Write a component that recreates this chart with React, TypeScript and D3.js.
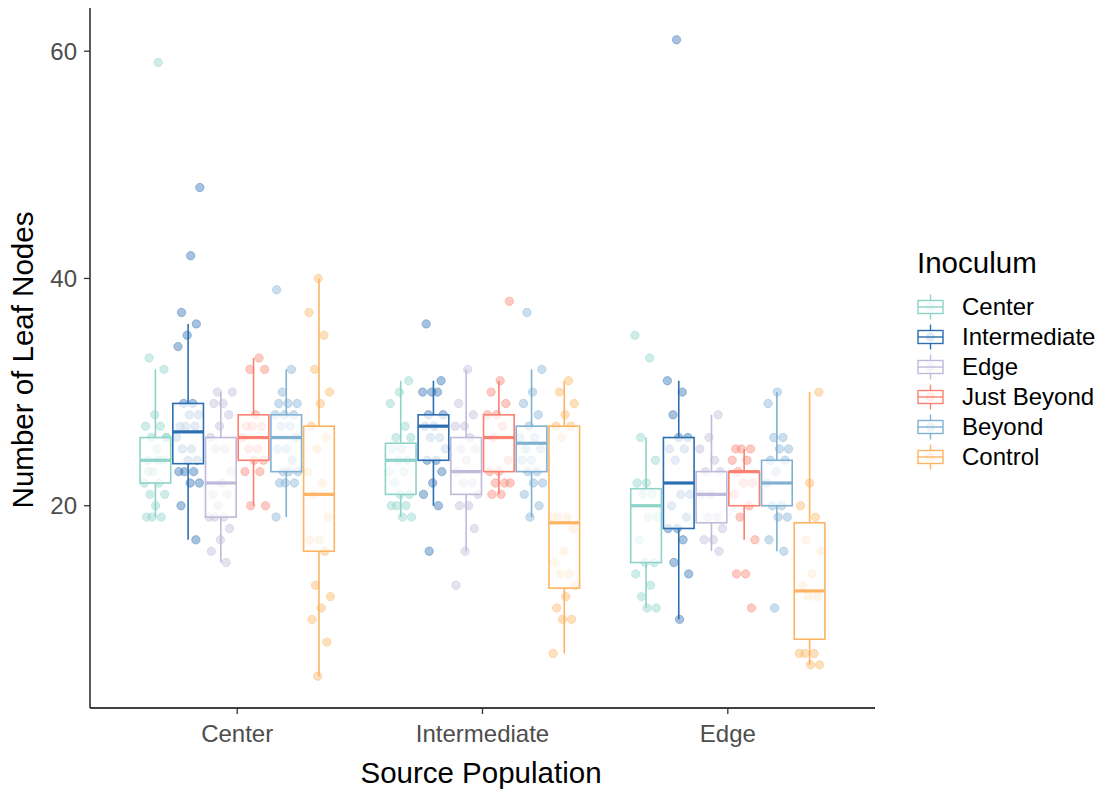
import React from "react";
import * as d3 from "d3";

// ---------- data ----------
const sourcePopulations = ["Center", "Intermediate", "Edge"];
const inocula = ["Center", "Intermediate", "Edge", "Just Beyond", "Beyond", "Control"];
const yTicks = [20, 40, 60];

// box stats: [lower whisker, Q1, median, Q3, upper whisker] per inoculum
const centerBoxes = [
  [19, 22, 24, 26, 32],
  [17, 23.7, 26.5, 29, 36],
  [15, 19, 22, 26, 30],
  [20, 24, 26, 28, 33],
  [19, 23, 26, 28, 32],
  [5, 16, 21, 27, 40],
];
const intermediateBoxes = [
  [19, 21, 24, 25.5, 31],
  [20, 24, 27, 28, 31],
  [16, 21, 23, 26, 32],
  [21, 23, 26, 28, 31],
  [19, 23, 25.5, 27, 32],
  [7, 12.75, 18.5, 27, 31],
];
const edgeBoxes = [
  [11, 15, 20, 21.5, 26],
  [10, 18, 22, 26, 31],
  [16, 18.5, 21, 23, 28],
  [17, 20, 23, 23, 25],
  [16, 20, 22, 24, 30],
  [6, 8.25, 12.5, 18.5, 30],
];

// raw observations (jittered points)
const centerPoints = [
  [59, 33, 32, 28, 27, 27, 26, 26, 25, 24, 24, 23, 22, 22, 21, 21, 20, 19, 19, 19, 26, 24, 23],
  [48, 42, 37, 36, 35, 34, 29, 29, 28, 28, 27, 27, 27, 26, 25, 25, 24, 24, 23, 23, 23, 22, 22, 20, 17],
  [30, 30, 29, 29, 28, 27, 26, 25, 25, 23, 22, 21, 21, 20, 19, 19, 19, 18, 17, 16, 15],
  [33, 32, 32, 28, 27, 27, 27, 26, 25, 25, 24, 24, 23, 23, 20, 20],
  [39, 32, 30, 29, 29, 29, 28, 28, 28, 27, 27, 26, 25, 25, 24, 23, 23, 23, 22, 22, 22, 19],
  [40, 37, 35, 32, 30, 29, 27, 26, 25, 23, 22, 21, 19, 17, 17, 16, 13, 12, 11, 10, 8, 5],
];
const intermediatePoints = [
  [31, 30, 29, 27, 26, 26, 25, 25, 24, 24, 23, 23, 22, 21, 21, 20, 20, 20, 19, 19],
  [36, 31, 30, 30, 30, 28, 28, 27, 27, 26, 26, 25, 24, 24, 23, 22, 21, 20, 16],
  [32, 29, 28, 27, 27, 26, 25, 25, 24, 23, 22, 22, 21, 20, 20, 18, 16, 13],
  [38, 31, 30, 29, 28, 28, 27, 26, 24, 23, 23, 22, 22, 22, 21, 21],
  [37, 32, 30, 29, 28, 27, 26, 26, 25, 25, 24, 24, 23, 23, 22, 22, 21, 20, 19],
  [31, 30, 29, 28, 27, 27, 26, 19, 19, 19, 18, 16, 15, 14, 14, 13, 12, 11, 10, 10, 7],
];
const edgePoints = [
  [35, 33, 26, 24, 22, 22, 21, 21, 19, 19, 17, 15, 15, 14, 13, 12, 11, 11],
  [61, 31, 30, 28, 26, 26, 25, 25, 24, 21, 21, 20, 19, 18, 18, 17, 15, 14, 10],
  [28, 26, 25, 24, 23, 23, 21, 21, 19, 19, 18, 17, 17, 16],
  [25, 25, 25, 24, 24, 23, 22, 22, 21, 20, 19, 17, 14, 14, 11],
  [30, 29, 26, 26, 25, 25, 24, 24, 23, 22, 20, 20, 19, 19, 17, 16, 11],
  [30, 22, 20, 19, 17, 16, 14, 13, 12, 12, 7, 7, 7, 6, 6],
];

const allBoxes = [centerBoxes, intermediateBoxes, edgeBoxes];
const allPoints = [centerPoints, intermediatePoints, edgePoints];

// ---------- styles ----------
const colors = ["#8DD3C7", "#2C6EB2", "#BEBADA", "#FB8072", "#80B1D3", "#FDB462"];
const FONT = "'Liberation Sans', Arial, sans-serif";

const W = 1099;
const H = 798;
const panel = { left: 90, right: 875, top: 8, bottom: 708 };

export default function App() {
  const x = d3
    .scalePoint<string>()
    .domain(sourcePopulations)
    .range([panel.left, panel.right])
    .padding(0.6);
  const step = x.step();
  const dodge = d3
    .scaleBand<string>()
    .domain(inocula)
    .range([-step * 0.4, step * 0.4])
    .padding(0);
  const boxW = (step * 0.75) / inocula.length;
  const y = d3.scaleLinear().domain([2.2, 63.8]).range([panel.bottom, panel.top]);
  const jitterW = 12;

  const pointEls: React.ReactNode[] = [];
  const boxEls: React.ReactNode[] = [];

  sourcePopulations.forEach((sp, si) => {
    inocula.forEach((ino, k) => {
      const cx = (x(sp) as number) + (dodge(ino) as number) + dodge.bandwidth() / 2;
      const col = colors[k];
      allPoints[si][k].forEach((v, j) => {
        const frac = (((j + 1) * 0.6180339 + k * 0.37 + si * 0.21) % 1) * 2 - 1;
        pointEls.push(
          <circle
            key={`p-${si}-${k}-${j}`}
            cx={cx + frac * jitterW}
            cy={y(v)}
            r={4.2}
            fill={col}
            fillOpacity={0.42}
            stroke={col}
            strokeOpacity={0.38}
            strokeWidth={1}
          />
        );
      });
      const [lw, q1, med, q3, uw] = allBoxes[si][k];
      boxEls.push(
        <g key={`b-${si}-${k}`} stroke={col}>
          <line x1={cx} x2={cx} y1={y(q3)} y2={y(uw)} strokeWidth={1.6} />
          <line x1={cx} x2={cx} y1={y(q1)} y2={y(lw)} strokeWidth={1.6} />
          <rect
            x={cx - boxW / 2}
            y={y(q3)}
            width={boxW}
            height={y(q1) - y(q3)}
            fill="#ffffff"
            fillOpacity={0.7}
            strokeWidth={1.6}
          />
          <line x1={cx - boxW / 2} x2={cx + boxW / 2} y1={y(med)} y2={y(med)} strokeWidth={3.2} />
        </g>
      );
    });
  });

  const legendX = 918;
  const legendY0 = 307;
  const legendStep = 30;

  return (
    <svg
      width={W}
      height={H}
      style={{ position: "absolute", left: 0, top: 0, background: "#fff" }}
      fontFamily={FONT}
    >
      <rect x={0} y={0} width={W} height={H} fill="#fff" />
      <g>{pointEls}</g>
      <g>{boxEls}</g>

      {/* axes */}
      <line x1={panel.left} x2={panel.left} y1={panel.top} y2={panel.bottom} stroke="#000" strokeWidth={1.3} />
      <line x1={panel.left} x2={panel.right} y1={panel.bottom} y2={panel.bottom} stroke="#000" strokeWidth={1.3} />
      {yTicks.map((t) => (
        <g key={`yt-${t}`}>
          <line x1={panel.left - 6} x2={panel.left} y1={y(t)} y2={y(t)} stroke="#333" strokeWidth={1.3} />
          <text
            x={panel.left - 13}
            y={y(t)}
            dy="0.35em"
            textAnchor="end"
            fontSize={24}
            fill="#4D4D4D"
          >
            {t}
          </text>
        </g>
      ))}
      {sourcePopulations.map((c) => (
        <g key={`xt-${c}`}>
          <line x1={x(c)} x2={x(c)} y1={panel.bottom} y2={panel.bottom + 6} stroke="#333" strokeWidth={1.3} />
          <text x={x(c)} y={742} textAnchor="middle" fontSize={24} fill="#4D4D4D">
            {c}
          </text>
        </g>
      ))}
      <text x={481} y={783} textAnchor="middle" fontSize={29.5} fill="#000">
        Source Population
      </text>
      <text
        transform={`translate(33, 360) rotate(-90)`}
        textAnchor="middle"
        fontSize={29.5}
        fill="#000"
      >
        Number of Leaf Nodes
      </text>

      {/* legend */}
      <text x={917} y={273} fontSize={29.5} fill="#000">
        Inoculum
      </text>
      {inocula.map((ino, k) => {
        const cy = legendY0 + k * legendStep;
        const col = colors[k];
        const kx = legendX + 12.5;
        return (
          <g key={`lg-${ino}`}>
            <circle cx={kx} cy={cy} r={4.2} fill={col} fillOpacity={0.42} stroke={col} strokeOpacity={0.38} />
            <g stroke={col}>
              <line x1={kx} x2={kx} y1={cy - 12.5} y2={cy - 6.5} strokeWidth={1.4} />
              <line x1={kx} x2={kx} y1={cy + 6.5} y2={cy + 12.5} strokeWidth={1.4} />
              <rect x={legendX} y={cy - 6.5} width={25} height={13} fill="#fff" fillOpacity={0.7} strokeWidth={1.4} />
              <line x1={legendX} x2={legendX + 25} y1={cy} y2={cy} strokeWidth={1.4} />
            </g>
            <text x={962} y={cy} dy="0.35em" fontSize={24} fill="#000">
              {ino}
            </text>
          </g>
        );
      })}
    </svg>
  );
}
